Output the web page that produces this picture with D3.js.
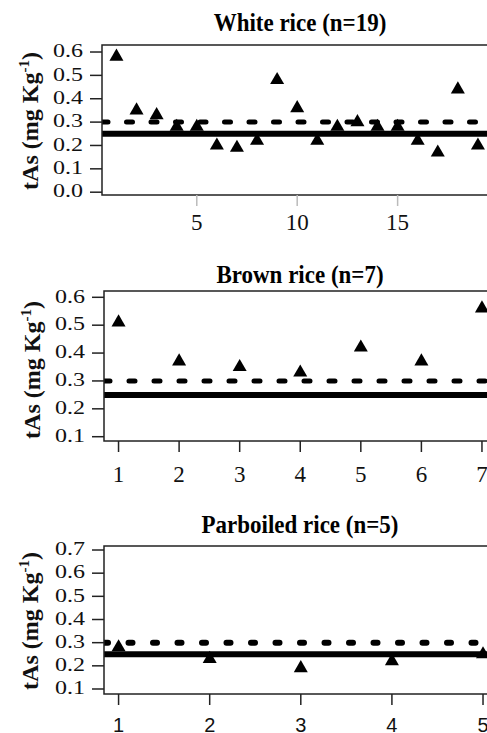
<!DOCTYPE html>
<html>
<head>
<meta charset="utf-8">
<script src="https://cdn.jsdelivr.net/npm/d3@7"></script>
<style>
  body { margin: 0; background: #fff; }
  svg { display: block; font-family: "Times New Roman", "Liberation Serif", Times, serif; }
</style>
</head>
<body>
<div class="figure"></div>
<script>
// values (tAs, mg/kg)
const whiteValues = [0.58, 0.35, 0.33, 0.28, 0.28, 0.20, 0.19, 0.22, 0.48, 0.36, 0.22, 0.28, 0.30, 0.28, 0.28, 0.22, 0.17, 0.44, 0.20];
const brownValues = [0.51, 0.37, 0.35, 0.33, 0.42, 0.37, 0.56];
const parboiledValues = [0.28, 0.23, 0.19, 0.22, 0.25];

const panelTitles = ["White rice (n=19)", "Brown rice (n=7)", "Parboiled rice (n=5)"];

const whiteXTicks = [5, 10, 15];
const brownXTicks = [1, 2, 3, 4, 5, 6, 7];
const parboiledXTicks = [1, 2, 3, 4, 5];

const whiteYTicks = [0.0, 0.1, 0.2, 0.3, 0.4, 0.5, 0.6];
const brownYTicks = [0.1, 0.2, 0.3, 0.4, 0.5, 0.6];
const parboiledYTicks = [0.1, 0.2, 0.3, 0.4, 0.5, 0.6, 0.7];

const solidLimit = 0.25;
const dashedLimit = 0.3;

const width = 487;
const height = 733;

const svg = d3
  .select(".figure")
  .append("svg")
  .attr("width", width)
  .attr("height", height);

const panels = [
  { values: whiteValues, title: panelTitles[0], xTicks: whiteXTicks, yTicks: whiteYTicks,
    xDomain: [0.28, 19.72], yDomain: [-0.012, 0.63], left: 102, right: 492.4, top: 45, bottom: 195,
    titleY: 31, labelY: 121, labelX: 30, xLabelY: 230, serifX: true,
    dash: "6,18.5", dashWidth: 5 },
  { values: brownValues, title: panelTitles[1], xTicks: brownXTicks, yTicks: brownYTicks,
    xDomain: [0.76, 7.24], yDomain: [0.0846, 0.6226], left: 104, right: 496.5, top: 291, bottom: 441,
    titleY: 283, labelY: 370, labelX: 32, xLabelY: 482, serifX: true,
    dash: "6,19", dashWidth: 5 },
  { values: parboiledValues, title: panelTitles[2], xTicks: parboiledXTicks, yTicks: parboiledYTicks,
    xDomain: [0.84, 5.16], yDomain: [0.0784, 0.7173], left: 104, right: 497.6, top: 546, bottom: 694,
    titleY: 533, labelY: 621, labelX: 30, xLabelY: 732, serifX: false,
    dash: "4,20.5", dashWidth: 6 }
];

panels.forEach((p, k) => {
  const x = d3.scaleLinear().domain(p.xDomain).range([p.left, p.right]);
  const y = d3.scaleLinear().domain(p.yDomain).range([p.bottom, p.top]);
  const g = svg.append("g");

  g.append("clipPath")
    .attr("id", "clip" + k)
    .append("rect")
    .attr("x", p.left)
    .attr("y", p.top)
    .attr("width", p.right - p.left)
    .attr("height", p.bottom - p.top);

  const plot = g.append("g").attr("clip-path", "url(#clip" + k + ")");

  // reference lines
  plot.append("line")
    .attr("x1", p.left)
    .attr("x2", p.right)
    .attr("y1", y(dashedLimit))
    .attr("y2", y(dashedLimit))
    .attr("stroke", "#000")
    .attr("stroke-width", p.dashWidth)
    .attr("stroke-linecap", "round")
    .attr("stroke-dasharray", p.dash);

  plot.append("line")
    .attr("x1", p.left)
    .attr("x2", p.right)
    .attr("y1", y(solidLimit))
    .attr("y2", y(solidLimit))
    .attr("stroke", "#000")
    .attr("stroke-width", 6);

  plot.selectAll("path.pt")
    .data(p.values)
    .enter()
    .append("path")
    .attr("class", "pt")
    .attr("d", d3.symbol(d3.symbolTriangle).size(85))
    .attr("transform", (d, i) => `translate(${x(i + 1)},${y(d)})`)
    .attr("fill", "#000");

  // box
  g.append("rect")
    .attr("x", p.left)
    .attr("y", p.top)
    .attr("width", p.right - p.left)
    .attr("height", p.bottom - p.top)
    .attr("fill", "none")
    .attr("stroke", "#222")
    .attr("stroke-width", 1.5);

  // y axis
  g.selectAll("line.ytick")
    .data(p.yTicks)
    .enter()
    .append("line")
    .attr("x1", p.left - 12)
    .attr("x2", p.left)
    .attr("y1", (d) => y(d))
    .attr("y2", (d) => y(d))
    .attr("stroke", "#222")
    .attr("stroke-width", 1.5);

  g.selectAll("text.ytick")
    .data(p.yTicks)
    .enter()
    .append("text")
    .attr("text-anchor", "end")
    .attr("font-size", 24)
    .attr("fill", "#111")
    .attr("transform", (d) => `translate(${p.left - 19},${y(d) + 5.3}) scale(1,0.8)`)
    .text((d) => d3.format(".1f")(d));

  // x axis
  g.selectAll("line.xtick")
    .data(p.xTicks)
    .enter()
    .append("line")
    .attr("x1", (d) => x(d))
    .attr("x2", (d) => x(d))
    .attr("y1", p.bottom)
    .attr("y2", p.bottom + 11)
    .attr("stroke", k === 0 ? "#bbb" : "#222")
    .attr("stroke-width", 1.5);

  g.selectAll("text.xtick")
    .data(p.xTicks)
    .enter()
    .append("text")
    .attr("x", (d) => x(d))
    .attr("y", p.xLabelY)
    .attr("text-anchor", "middle")
    .attr("font-size", p.serifX ? 23 : 20)
    .style("font-family", p.serifX ? null : "Arial, 'Liberation Sans', sans-serif")
    .attr("fill", "#111")
    .text((d) => d);

  // title
  g.append("text")
    .attr("transform", `translate(300,${p.titleY}) scale(1,1.12)`)
    .attr("text-anchor", "middle")
    .attr("font-size", 23)
    .attr("font-weight", "bold")
    .text(p.title);

  // y label
  const lab = g.append("text")
    .attr("transform", `translate(${p.labelX + 8},${p.labelY}) rotate(-90)`)
    .attr("text-anchor", "middle")
    .attr("font-size", 24)
    .attr("font-weight", "bold")
    .attr("fill", "#111");
  lab.append("tspan").text("tAs (mg Kg");
  lab.append("tspan").attr("font-size", 15).attr("dy", -9).text("-1");
  lab.append("tspan").attr("dy", 9).text(")");
});
</script>
</body>
</html>
